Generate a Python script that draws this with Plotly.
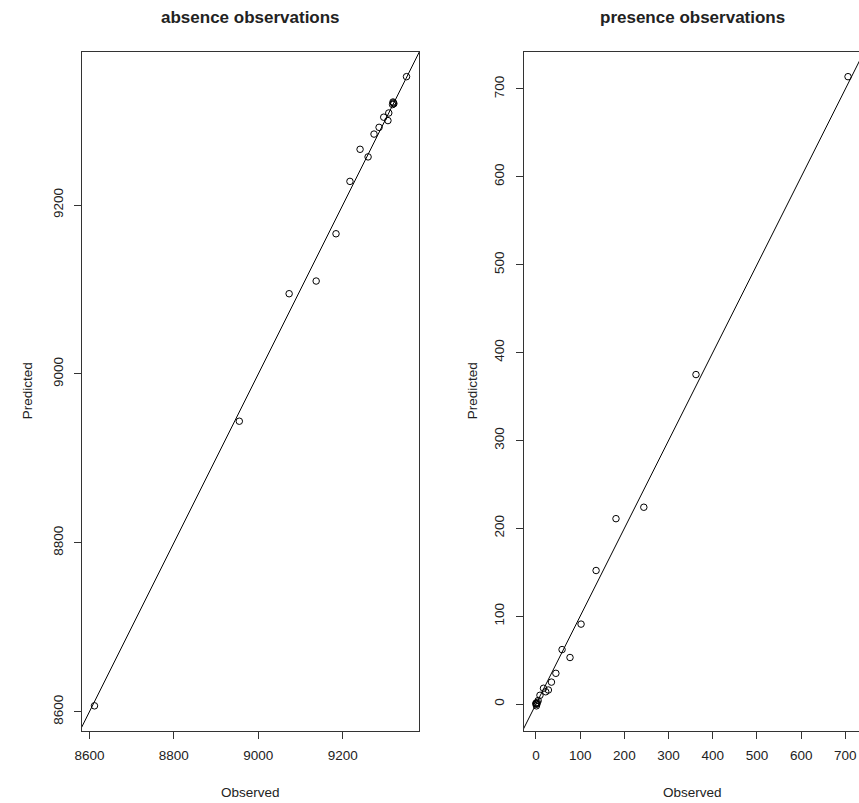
import plotly.graph_objects as go

# ---------------- data ----------------
absence_observed = [8612, 8955, 9073, 9137, 9184, 9217, 9241, 9260, 9274, 9286,
                    9297, 9307, 9309, 9318, 9320, 9321, 9319, 9351]
absence_predicted = [8607, 8944, 9095, 9110, 9166, 9228, 9266, 9257, 9284, 9292,
                     9304, 9300, 9309, 9319, 9321, 9320, 9322, 9352]

presence_observed = [706, 362, 244, 181, 136, 102, 77, 59, 45, 35, 28, 17, 22, 9, 5,
                     0, 1, 2, 0, 3, 1]
presence_predicted = [714, 375, 224, 211, 152, 91, 53, 62, 35, 25, 16, 18, 14, 10, 4,
                      0, 1, 0, 1, 2, -2]

absence_xticks = [8600, 8800, 9000, 9200]
absence_yticks = [8600, 8800, 9000, 9200]
presence_xticks = [0, 100, 200, 300, 400, 500, 600, 700]
presence_yticks = [0, 100, 200, 300, 400, 500, 600, 700]

titles = ["absence observations", "presence observations"]
xlab = "Observed"
ylab = "Predicted"

# ---------------- layout helpers ----------------
W, H = 859, 803
FONT = "Liberation Sans, Arial, sans-serif"
TXT = "#222222"
AX = "#333333"


def r_range(v):
    lo, hi = min(v), max(v)
    pad = 0.04 * (hi - lo)
    return [lo - pad, hi + pad]


ax_x = r_range(absence_observed)
ax_y = r_range(absence_predicted)
pr_x = r_range(presence_observed)
pr_y = r_range(presence_predicted)

# panel pixel geometry
L1, R1 = 82, 419
L2, R2full = 523.5, 860.5
TOP, BOT = 51.5, 731
# right panel is cut by the window edge: clip the visible range
pr_x_vis = [pr_x[0], pr_x[0] + (W - L2) / (R2full - L2) * (pr_x[1] - pr_x[0])]

ydom = [(H - BOT) / H, (H - TOP) / H]

fig = go.Figure()

marker = dict(symbol="circle-open", size=6.5, color="black", line=dict(width=1, color="black"))

fig.add_trace(go.Scatter(x=absence_observed, y=absence_predicted, mode="markers",
                         marker=marker, xaxis="x", yaxis="y", showlegend=False))
lo = min(ax_x[0], ax_y[0]); hi = max(ax_x[1], ax_y[1])
fig.add_trace(go.Scatter(x=[lo, hi], y=[lo, hi], mode="lines",
                         line=dict(color="black", width=1), xaxis="x", yaxis="y",
                         showlegend=False))

fig.add_trace(go.Scatter(x=presence_observed, y=presence_predicted, mode="markers",
                         marker=marker, xaxis="x2", yaxis="y2", showlegend=False))
lo2 = min(pr_x[0], pr_y[0]); hi2 = max(pr_x[1], pr_y[1])
fig.add_trace(go.Scatter(x=[lo2, hi2], y=[lo2, hi2], mode="lines",
                         line=dict(color="black", width=1), xaxis="x2", yaxis="y2",
                         showlegend=False))

common = dict(showgrid=False, zeroline=False, showline=True, linecolor=AX, linewidth=1,
              ticks="outside", ticklen=7, tickcolor=AX, tickwidth=1,
              tickfont=dict(family=FONT, size=13.5, color=TXT), automargin=False)

fig.update_layout(
    width=W, height=H,
    margin=dict(l=0, r=0, t=0, b=0),
    paper_bgcolor="white", plot_bgcolor="white",
    xaxis=dict(domain=[L1 / W, R1 / W], range=ax_x, tickvals=absence_xticks,
               mirror=True, anchor="y", ticklabelstandoff=5, **common),
    yaxis=dict(domain=ydom, range=ax_y, tickvals=absence_yticks, tickangle=-90,
               mirror=True, anchor="x", ticklabelstandoff=6, **common),
    xaxis2=dict(domain=[L2 / W, 1.0], range=pr_x_vis, tickvals=presence_xticks,
                mirror=True, anchor="y2", ticklabelstandoff=5, **common),
    yaxis2=dict(domain=ydom, range=pr_y, tickvals=presence_yticks, tickangle=-90,
                mirror=False, anchor="x2", ticklabelstandoff=6, **common),
)

ann = []
cx1 = (L1 + R1) / 2 / W
cx2 = (L2 + R2full) / 2 / W
for cx, t in zip([cx1, cx2], titles):
    ann.append(dict(text="<b>" + t + "</b>", x=cx, y=(H - 18) / H, xref="paper", yref="paper",
                    showarrow=False, xanchor="center", yanchor="middle",
                    font=dict(family=FONT, size=17, color=TXT)))
    ann.append(dict(text=xlab, x=cx, y=(H - 792) / H, xref="paper", yref="paper",
                    showarrow=False, xanchor="center", yanchor="middle",
                    font=dict(family=FONT, size=13.5, color=TXT)))
ymid = (H - (TOP + BOT) / 2) / H
for px in [27, 472]:
    ann.append(dict(text=ylab, x=px / W, y=ymid, xref="paper", yref="paper",
                    showarrow=False, xanchor="center", yanchor="middle", textangle=-90,
                    font=dict(family=FONT, size=13.5, color=TXT)))
fig.update_layout(annotations=ann)

fig.write_html(
    "out.html",
    config={"displayModeBar": False},
    post_script="document.body.style.margin='0';document.body.style.overflow='hidden';",
)
